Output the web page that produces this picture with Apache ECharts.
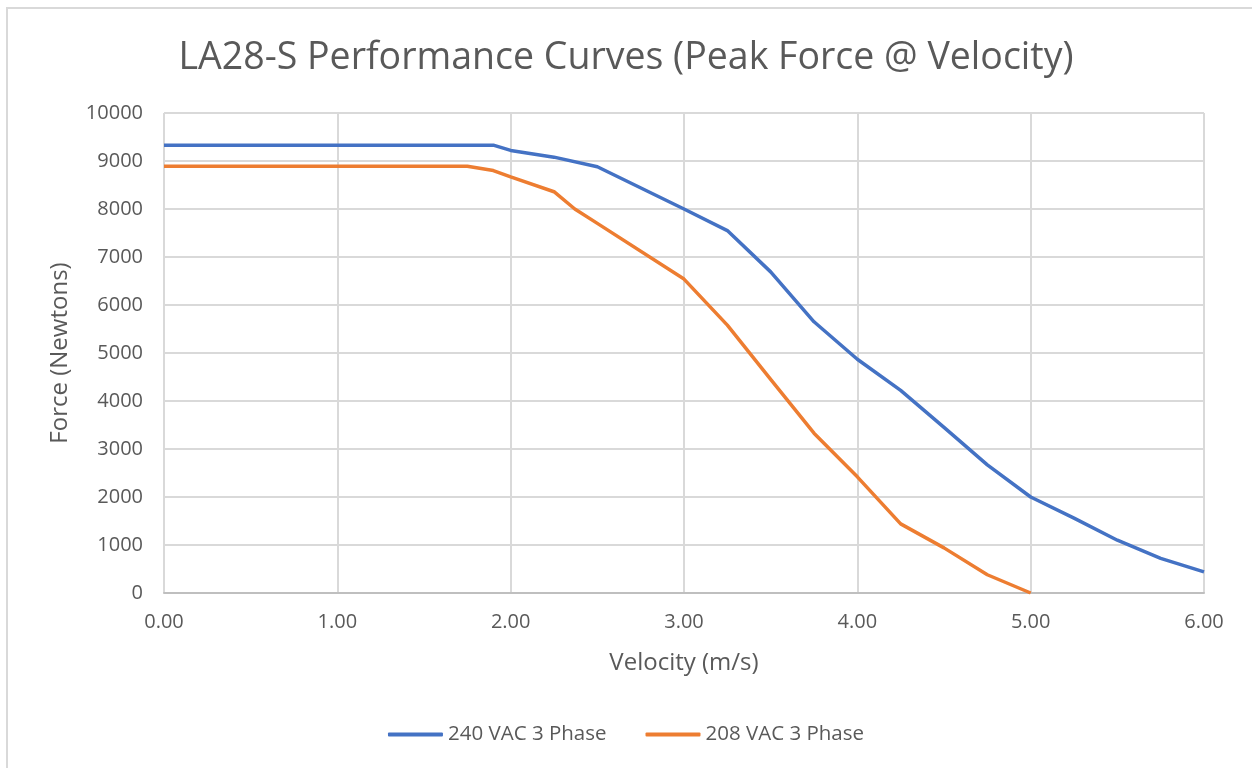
<!DOCTYPE html>
<html>
<head>
<meta charset="utf-8">
<script src="https://cdn.jsdelivr.net/npm/echarts@6/dist/echarts.min.js"></script>
<style>
html,body{margin:0;padding:0;background:#fff;}
#chart{width:1252px;height:768px;}
</style>
</head>
<body>
<div id="chart"></div>
<script>
var title = 'LA28-S Performance Curves (Peak Force @ Velocity)';
var xAxisName = 'Velocity (m/s)';
var yAxisName = 'Force (Newtons)';
var seriesNames = ['240 VAC 3 Phase', '208 VAC 3 Phase'];

var vel240 = [0, 1.9, 2.0, 2.25, 2.5, 3.0, 3.25, 3.5, 3.75, 4.0, 4.25, 4.5, 4.75, 5.0, 5.25, 5.5, 5.75, 6.0];
var force240 = [9330, 9330, 9220, 9080, 8880, 8000, 7550, 6690, 5650, 4870, 4220, 3450, 2670, 2000, 1560, 1100, 720, 440];

var vel208 = [0, 1.75, 1.9, 2.0, 2.25, 2.37, 2.5, 3.0, 3.25, 3.5, 3.75, 4.0, 4.25, 4.5, 4.75, 5.0];
var force208 = [8890, 8890, 8800, 8670, 8360, 8000, 7700, 6540, 5580, 4450, 3330, 2420, 1440, 940, 380, 0];

function pairs(xs, ys) { return xs.map(function (x, i) { return [x, ys[i]]; }); }

var font = '"Open Sans", "Noto Sans", sans-serif';
var textColor = '#595959';

var chart = echarts.init(document.getElementById('chart'), null, {renderer: 'canvas'});
chart.setOption({
  animation: false,
  backgroundColor: '#fff',
  textStyle: {fontFamily: font},
  graphic: [{
    type: 'rect', silent: true,
    shape: {x: 7, y: 8, width: 1400, height: 900},
    style: {fill: 'none', stroke: '#d9d9d9', lineWidth: 2}
  }],
  title: {
    text: title, left: 'center', top: 34,
    textStyle: {fontFamily: font, fontSize: 37.5, fontWeight: 'normal', color: textColor}
  },
  legend: {
    bottom: 18, left: 'center',
    itemWidth: 55, itemHeight: 4, itemGap: 39,
    icon: 'roundRect',
    textStyle: {fontFamily: font, fontSize: 20.5, color: textColor},
    data: seriesNames
  },
  grid: {left: 164, right: 48, top: 113, bottom: 175, containLabel: false},
  xAxis: {
    type: 'value', min: 0, max: 6, interval: 1,
    name: xAxisName, nameLocation: 'middle', nameGap: 58,
    nameTextStyle: {fontFamily: font, fontSize: 24, color: textColor},
    axisLine: {show: true, lineStyle: {color: '#bfbfbf', width: 2}},
    axisTick: {show: false},
    axisLabel: {fontFamily: font, fontSize: 20, color: textColor, margin: 19,
      formatter: function (v) { return v.toFixed(2); }},
    splitLine: {show: true, lineStyle: {color: '#d9d9d9', width: 2}}
  },
  yAxis: {
    type: 'value', min: 0, max: 10000, interval: 1000,
    name: yAxisName, nameLocation: 'middle', nameGap: 92, nameRotate: 90,
    nameTextStyle: {fontFamily: font, fontSize: 24, color: textColor},
    axisLine: {show: false},
    axisTick: {show: false},
    axisLabel: {fontFamily: font, fontSize: 20, color: textColor, margin: 21,
      formatter: function (v) { return String(v); }},
    splitLine: {show: true, lineStyle: {color: '#d9d9d9', width: 2}}
  },
  series: [
    {name: seriesNames[0], type: 'line', data: pairs(vel240, force240), showSymbol: false,
      lineStyle: {color: '#4472c4', width: 3.5}, itemStyle: {color: '#4472c4'}},
    {name: seriesNames[1], type: 'line', data: pairs(vel208, force208), showSymbol: false,
      lineStyle: {color: '#ed7d31', width: 3.5}, itemStyle: {color: '#ed7d31'}}
  ]
});
</script>
</body>
</html>
